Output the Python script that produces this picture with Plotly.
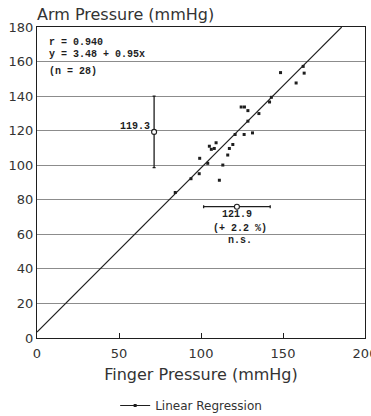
import plotly.graph_objects as go

# Data
finger = [148.5, 162.3, 162.9, 158.0, 142.9, 141.8, 135.3, 124.5, 126.5, 128.6,
          128.6, 120.8, 126.3, 131.4, 105.1, 106.3, 108.1, 109.2, 119.4, 117.3,
          116.3, 99.2, 104.1, 113.3, 98.9, 93.9, 111.2, 84.3]
arm = [153.6, 157.2, 153.3, 147.6, 139.3, 136.6, 129.9, 133.7, 133.7, 131.6,
       125.5, 117.8, 117.8, 118.7, 111.0, 109.2, 109.7, 113.0, 112.0, 109.7,
       105.9, 104.0, 101.1, 100.1, 95.1, 92.2, 91.3, 84.2]

reg_intercept = 3.48
reg_slope = 0.95
reg_x = [0, 185.8]
reg_y = [reg_intercept + reg_slope * v for v in reg_x]

arm_mean_x = [71.4]
arm_mean_y = [119.3]
arm_sd = [20.7]

finger_mean_x = [121.9]
finger_mean_y = [76.0]
finger_sd = [20.3]

x_ticks = [0, 50, 100, 150, 200]
y_ticks = [0, 20, 40, 60, 80, 100, 120, 140, 160, 180]

INK = "#1e1e1e"
MONO = "Liberation Mono"
SANS = "DejaVu Sans"

fig = go.Figure()

fig.add_trace(go.Scatter(x=reg_x, y=reg_y, mode="lines",
                         line=dict(color=INK, width=1.1), showlegend=False,
                         hoverinfo="skip"))
fig.add_trace(go.Scatter(x=finger, y=arm, mode="markers",
                         marker=dict(symbol="square", size=3, color=INK),
                         showlegend=False))
fig.add_trace(go.Scatter(x=arm_mean_x, y=arm_mean_y, mode="markers",
                         marker=dict(symbol="circle", size=5, color="white",
                                     line=dict(color=INK, width=1.1)),
                         error_y=dict(type="data", array=arm_sd, color=INK,
                                      thickness=1.3, width=1.5),
                         showlegend=False))
fig.add_trace(go.Scatter(x=finger_mean_x, y=finger_mean_y, mode="markers",
                         marker=dict(symbol="circle", size=5, color="white",
                                     line=dict(color=INK, width=1.1)),
                         error_x=dict(type="data", array=finger_sd, color=INK,
                                      thickness=1.3, width=1.5),
                         showlegend=False))
# legend entry
fig.add_trace(go.Scatter(x=[None], y=[None], mode="lines+markers",
                         name="Linear Regression",
                         line=dict(color=INK, width=1.1),
                         marker=dict(symbol="square", size=3, color=INK)))

annots = [
    dict(x=6.1, y=171.2, text="r = 0.940"),
    dict(x=6.1, y=163.9, text="y = 3.48 + 0.95x"),
    dict(x=6.1, y=154.3, text="(n = 28)"),
]
for a in annots:
    fig.add_annotation(x=a["x"], y=a["y"], text=a["text"], showarrow=False,
                       xanchor="left", yanchor="middle",
                       font=dict(family=MONO, size=10, color=INK, weight="bold"))

fig.add_annotation(x=arm_mean_x[0], y=arm_mean_y[0], text="119.3", showarrow=False,
                   xanchor="right", yanchor="bottom", xshift=-2, yshift=-2,
                   font=dict(family=MONO, size=10, color=INK, weight="bold"))
for txt, yv, xv in [("121.9", 71.3, 121.9), ("(+ 2.2 %)", 63.2, 123.5), ("n.s.", 56.3, 123.5)]:
    fig.add_annotation(x=xv, y=yv, text=txt, showarrow=False,
                       xanchor="center", yanchor="middle",
                       font=dict(family=MONO, size=10, color=INK, weight="bold"))

fig.update_layout(
    width=371, height=416,
    margin=dict(l=37, r=6, t=27, b=78, autoexpand=False),
    paper_bgcolor="white", plot_bgcolor="white",
    font=dict(family=SANS, color="#333"),
    title=dict(text="Arm Pressure (mmHg)", x=37/371, xanchor="left",
               xref="container", y=1 - 14/416, yanchor="middle", yref="container",
               font=dict(family=SANS, size=16, color="#333"), pad=dict(l=0, t=0)),
    showlegend=True,
    legend=dict(orientation="h", x=0.47, xanchor="center", y=-0.217, yanchor="middle",
                font=dict(family=SANS, size=12, color="#333"), bgcolor="rgba(0,0,0,0)"),
    xaxis=dict(range=[0, 200], tickvals=x_ticks, ticks="inside", ticklen=5,
               tickcolor=INK, showgrid=False, zeroline=False,
               showline=True, mirror=True, linecolor=INK, linewidth=1.2,
               ticklabeloverflow="allow", ticklabelstandoff=3,
               tickfont=dict(family=SANS, size=13, color="#333"),
               title=dict(text="Finger Pressure (mmHg)", standoff=9,
                          font=dict(family=SANS, size=16, color="#333"))),
    yaxis=dict(range=[0, 180], tickvals=y_ticks, ticks="", showgrid=True,
               gridcolor="#8c8c8c", gridwidth=1, zeroline=False,
               showline=True, mirror=True, linecolor=INK, linewidth=1.2,
               tickfont=dict(family=SANS, size=13, color="#333")),
)

fig.write_html("out.html")
